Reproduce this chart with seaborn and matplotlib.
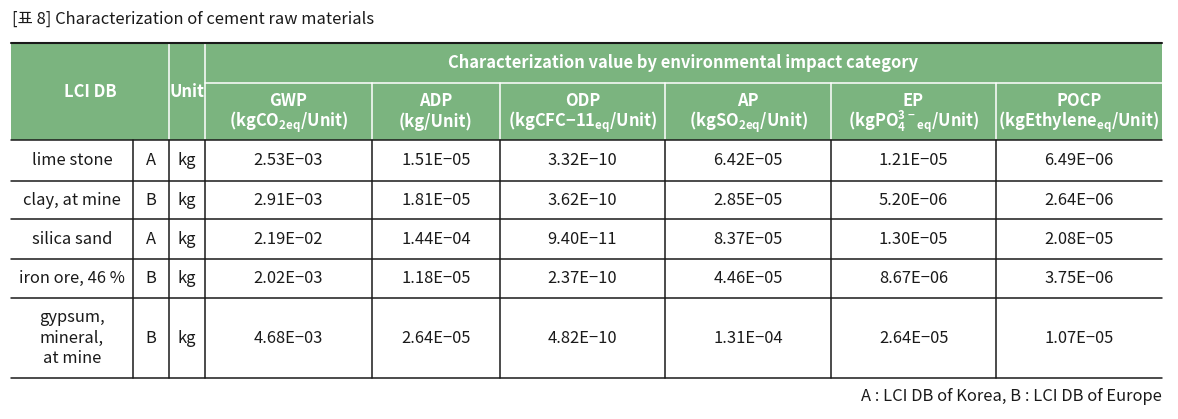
import matplotlib
matplotlib.use("Agg")
import matplotlib.pyplot as plt
from matplotlib.patches import Rectangle
import seaborn as sns

# ---------------- data ----------------
title = "[표 8] Characterization of cement raw materials"
footnote = "A : LCI DB of Korea, B : LCI DB of Europe"
group_header = "Characterization value by environmental impact category"
materials = ["lime stone", "clay, at mine", "silica sand", "iron ore, 46 %", "gypsum,\nmineral,\nat mine"]
lci_db = ["A", "B", "A", "B", "B"]
units = ["kg", "kg", "kg", "kg", "kg"]
categories = ["GWP", "ADP", "ODP", "AP", "EP", "POCP"]
category_units = [r"(kgCO$_{2eq}$/Unit)", "(kg/Unit)", r"(kgCFC−11$_{eq}$/Unit)",
                  r"(kgSO$_{2eq}$/Unit)", r"(kgPO$_{4}^{3-}{}_{eq}$/Unit)",
                  r"(kgEthylene$_{eq}$/Unit)"]
gwp = [2.53e-03, 2.91e-03, 2.19e-02, 2.02e-03, 4.68e-03]
adp = [1.51e-05, 1.81e-05, 1.44e-04, 1.18e-05, 2.64e-05]
odp = [3.32e-10, 3.62e-10, 9.40e-11, 2.37e-10, 4.82e-10]
ap = [6.42e-05, 2.85e-05, 8.37e-05, 4.46e-05, 1.31e-04]
ep = [1.21e-05, 5.20e-06, 1.30e-05, 8.67e-06, 2.64e-05]
pocp = [6.49e-06, 2.64e-06, 2.08e-05, 3.75e-06, 1.07e-05]
values = [gwp, adp, odp, ap, ep, pocp]

# ---------------- style ----------------
sns.set_theme(style="white")
plt.rcParams["font.family"] = ["Noto Sans CJK KR", "DejaVu Sans"]
plt.rcParams["mathtext.fontset"] = "custom"
plt.rcParams["mathtext.default"] = "regular"
plt.rcParams["mathtext.rm"] = "Noto Sans CJK KR"

GREEN = "#7bb47f"
INK = "#1a1a1a"
FS = 11.9

# layout (pixel space)
col_edges = [11, 133, 169, 205, 372, 500, 665, 831, 996, 1162]
row_edges = [140, 181, 219, 259, 298, 378]
top, mid = 43, 83

fig = plt.figure(figsize=(11.78, 4.19), dpi=100)
ax = fig.add_axes([0, 0, 1, 1])
ax.set_xlim(0, 1178)
ax.set_ylim(419, 0)
ax.axis("off")

def fmt(v):
    return "{:.2E}".format(v).replace("-", "−")

# title
ax.text(12, 19, title, fontsize=FS, color=INK, ha="left", va="center")

# header background
ax.add_patch(Rectangle((col_edges[0], top), col_edges[-1] - col_edges[0], row_edges[0] - top,
                       facecolor=GREEN, edgecolor="none", zorder=0))
# header white lines
for x in [col_edges[2], col_edges[3]]:
    ax.plot([x, x], [top, row_edges[0]], color="white", lw=1.1, zorder=1)
for x in col_edges[4:-1]:
    ax.plot([x, x], [mid, row_edges[0]], color="white", lw=1.1, zorder=1)
ax.plot([col_edges[3], col_edges[-1]], [mid, mid], color="white", lw=1.1, zorder=1)

# header text
hdr = dict(color="white", fontsize=FS, fontweight="bold", ha="center", va="center")
ax.text((col_edges[0] + col_edges[2]) / 2, 92, "LCI DB", **hdr)
ax.text((col_edges[2] + col_edges[3]) / 2, 92, "Unit", **hdr)
ax.text((col_edges[3] + col_edges[-1]) / 2, 63, group_header, **hdr)
for i, (c, u) in enumerate(zip(categories, category_units)):
    xc = (col_edges[3 + i] + col_edges[4 + i]) / 2
    ax.text(xc, 101, c, **hdr)
    ax.text(xc, 122, u, **hdr)

# table lines
ax.plot([col_edges[0], col_edges[-1]], [top, top], color=INK, lw=1.5, zorder=2)
for y in row_edges:
    ax.plot([col_edges[0], col_edges[-1]], [y, y], color=INK, lw=1.1, zorder=2)
for x in col_edges[1:-1]:
    ax.plot([x, x], [row_edges[0], row_edges[-1]], color=INK, lw=1.1, zorder=2)

# body text
body = dict(color=INK, fontsize=FS, ha="center", va="center")
for r in range(len(materials)):
    yc = (row_edges[r] + row_edges[r + 1]) / 2
    ax.text((col_edges[0] + col_edges[1]) / 2, yc, materials[r], linespacing=1.3, **body)
    ax.text((col_edges[1] + col_edges[2]) / 2, yc, lci_db[r], **body)
    ax.text((col_edges[2] + col_edges[3]) / 2, yc, units[r], **body)
    for k, series in enumerate(values):
        xc = (col_edges[3 + k] + col_edges[4 + k]) / 2
        ax.text(xc, yc, fmt(series[r]), **body)

# footnote
ax.text(col_edges[-1], 396, footnote, color=INK, fontsize=FS, ha="right", va="center")

fig.savefig("out.png", dpi=100)
